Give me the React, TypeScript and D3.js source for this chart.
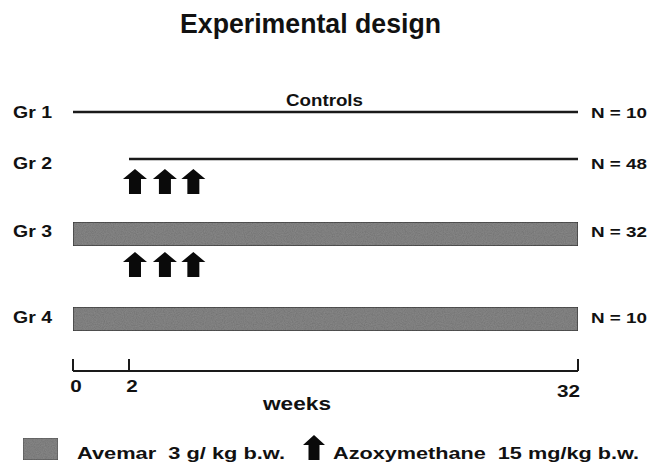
import React from 'react';
import * as d3 from 'd3';

// study groups
const groups = ['Gr 1', 'Gr 2', 'Gr 3', 'Gr 4'];
const groupN = [10, 48, 32, 10];
const startWeek = [0, 2, 0, 0];
const endWeek = [32, 32, 32, 32];
const avemar = [false, false, true, true];
const azoxymethane = [false, true, true, false];
// arrow positions along the week axis (schematic)
const injectionWeeks = [2.4, 4.4, 6.3];
const axisTicks = [0, 2, 32];

const W = 652;
const H = 465;
const FONT = '"Liberation Sans", Arial, Helvetica, sans-serif';

const x = d3.scaleLinear().domain([0, 2, 32]).range([73, 129, 578]);
// row centre + label baseline
const rowY = d3.scaleOrdinal<string, number>().domain(groups).range([112, 159, 234, 319]);
const labelY = d3.scaleOrdinal<string, number>().domain(groups).range([118, 169, 237, 323]);

const BAR_H = 24;
const BAR_FILL = '#8a8a8a';

// up-arrow, (cx, top) anchor
const arrowPath = (cx: number, top: number, w = 24, h = 25, head = 10, shaft = 12) => {
  const p = d3.path();
  p.moveTo(cx, top);
  p.lineTo(cx + w / 2, top + head);
  p.lineTo(cx + shaft / 2, top + head);
  p.lineTo(cx + shaft / 2, top + h);
  p.lineTo(cx - shaft / 2, top + h);
  p.lineTo(cx - shaft / 2, top + head);
  p.lineTo(cx - w / 2, top + head);
  p.closePath();
  return p.toString();
};

export default function App() {
  const axisY = 371;
  return (
    <svg
      width={W}
      height={H}
      style={{ position: 'absolute', left: 0, top: 0, background: '#fff' }}
      fontFamily={FONT}
      fontWeight="bold"
    >
      <defs>
        <filter id="grain" x="0" y="0" width="1" height="1">
          <feTurbulence type="fractalNoise" baseFrequency="0.9" numOctaves="2" seed="3" result="n" />
          <feColorMatrix
            in="n"
            type="matrix"
            values="0 0 0 0 0  0 0 0 0 0  0 0 0 0 0  0 0 0 0.35 0"
            result="dots"
          />
          <feComposite in="dots" in2="SourceGraphic" operator="in" result="dm" />
          <feMerge>
            <feMergeNode in="SourceGraphic" />
            <feMergeNode in="dm" />
          </feMerge>
        </filter>
      </defs>

      <text x={180} y={33} fontSize={27} textLength={261} lengthAdjust="spacingAndGlyphs" fill="#111">
        Experimental design
      </text>

      <text x={324.5} y={106} fontSize={17} textAnchor="middle" textLength={77} lengthAdjust="spacingAndGlyphs" fill="#111">
        Controls
      </text>

      {groups.map((g, i) => {
        const y = rowY(g);
        return (
          <g key={g}>
            <text x={13} y={labelY(g)} fontSize={16.5} textLength={39} lengthAdjust="spacingAndGlyphs" fill="#111">
              {g}
            </text>
            <text x={591} y={labelY(g)} fontSize={15.5} textLength={56} lengthAdjust="spacingAndGlyphs" fill="#111">
              {`N = ${groupN[i]}`}
            </text>
            {avemar[i] ? (
              <rect
                x={x(startWeek[i])}
                y={y - BAR_H / 2}
                width={x(endWeek[i]) - x(startWeek[i])}
                height={BAR_H}
                fill={BAR_FILL}
                stroke="#3c3c3c"
                strokeWidth={1.3}
                filter="url(#grain)"
              />
            ) : (
              <line x1={x(startWeek[i])} x2={x(endWeek[i])} y1={y} y2={y} stroke="#1a1a1a" strokeWidth={2.5} />
            )}
            {azoxymethane[i] &&
              injectionWeeks.map((w) => (
                <path
                  key={w}
                  d={arrowPath(x(w), avemar[i] ? y + BAR_H / 2 + 6 : y + 10)}
                  fill="#0a0a0a"
                />
              ))}
          </g>
        );
      })}

      {/* week axis */}
      <line x1={x(0)} x2={x(32)} y1={axisY} y2={axisY} stroke="#1a1a1a" strokeWidth={2} />
      {axisTicks.map((t) => (
        <line key={t} x1={x(t)} x2={x(t)} y1={axisY} y2={axisY - 12} stroke="#1a1a1a" strokeWidth={2} />
      ))}
      {axisTicks.map((t) => (
        <text
          key={'l' + t}
          x={t === 32 ? x(t) + 2 : x(t) + 3}
          y={t === 32 ? 397 : 392}
          fontSize={16.5}
          textAnchor={t === 32 ? 'end' : 'middle'}
          textLength={t === 32 ? 23 : 11.5}
          lengthAdjust="spacingAndGlyphs"
          fill="#111"
        >
          {t}
        </text>
      ))}
      <text x={297} y={410} fontSize={18} textAnchor="middle" textLength={68} lengthAdjust="spacingAndGlyphs" fill="#111">
        weeks
      </text>

      {/* legend */}
      <rect x={23} y={438} width={35} height={22} fill={BAR_FILL} stroke="#555" strokeWidth={1} filter="url(#grain)" />
      <text x={77} y={459} fontSize={17} textLength={208} lengthAdjust="spacingAndGlyphs" fill="#111" xmlSpace="preserve">
        Avemar  3 g/ kg b.w.
      </text>
      <path d={arrowPath(314, 435, 22, 25, 10, 11)} fill="#0a0a0a" />
      <text x={333} y={459} fontSize={17} textLength={306} lengthAdjust="spacingAndGlyphs" fill="#111" xmlSpace="preserve">
        Azoxymethane  15 mg/kg b.w.
      </text>
    </svg>
  );
}
